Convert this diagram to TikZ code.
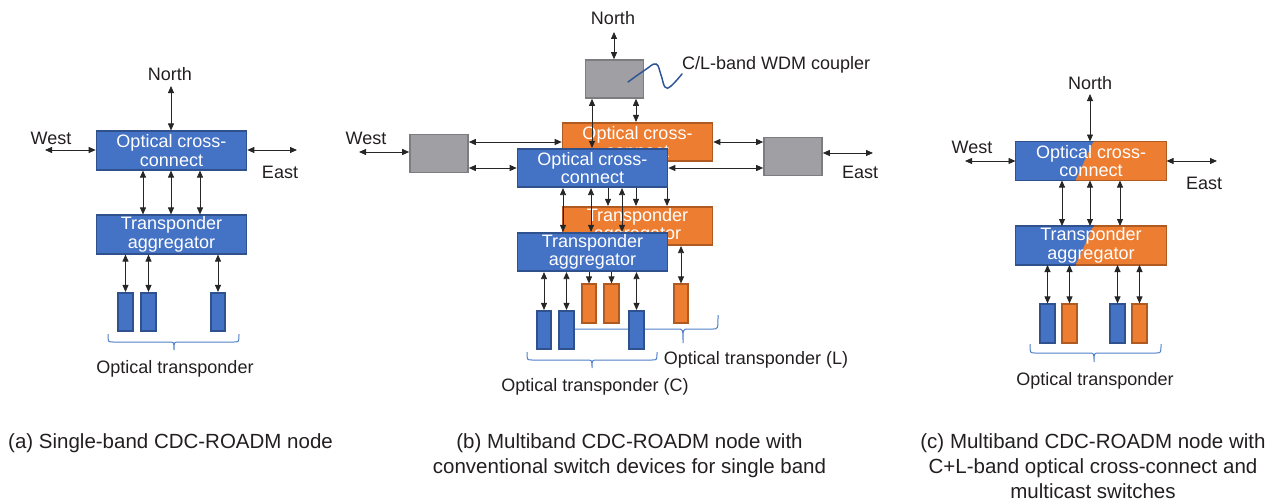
\documentclass[tikz,border=0pt]{standalone}
\usepackage{fontspec}
\setmainfont{Liberation Sans}
\usetikzlibrary{arrows.meta}

\definecolor{oxblue}{RGB}{68,114,196}
\definecolor{oxblueline}{RGB}{47,82,143}
\definecolor{oxorange}{RGB}{237,125,49}
\definecolor{oxorangeline}{RGB}{174,90,33}
\definecolor{cplgray}{RGB}{160,160,164}
\definecolor{cplline}{RGB}{125,125,128}
\definecolor{bracecol}{RGB}{80,128,200}
\definecolor{wavecol}{RGB}{47,85,151}
\definecolor{txt}{RGB}{35,31,32}

\newcommand{\lblfont}{\fontsize{18}{18.5}\selectfont}
\newcommand{\capfont}{\fontsize{20.5}{25}\selectfont}

% curly brace opening downwards: x-left, x-right, x-tip, y-top, depth
\newcommand{\bracedown}[5]{%
  \draw[brace line] (#1,#4) .. controls (#1,#4+#5/2) .. (#1+5,#4+#5/2)
    -- (#3-5,#4+#5/2) .. controls (#3,#4+#5/2) .. (#3,#4+#5)
    .. controls (#3,#4+#5/2) .. (#3+5,#4+#5/2)
    -- (#2-5,#4+#5/2) .. controls (#2,#4+#5/2) .. (#2,#4);}

\tikzset{
  box/.style={draw, line width=1.6pt, inner sep=0pt, align=center,
    text=white, font=\lblfont, minimum width=150, minimum height=38.5},
  bluebox/.style={box, fill=oxblue, draw=oxblueline},
  orangebox/.style={box, fill=oxorange, draw=oxorangeline},
  graybox/.style={box, fill=cplgray, draw=cplline, minimum width=58, minimum height=38},
  tpblue/.style={draw=oxblueline, fill=oxblue, line width=1.6pt,
    minimum width=14.5, minimum height=38.5, inner sep=0pt},
  tporange/.style={tpblue, draw=oxorangeline, fill=oxorange},
  splitbox/.style={inner sep=0pt, outer sep=0pt, align=center, text=white,
    font=\lblfont, minimum width=151, minimum height=39, fill=oxblue,
    path picture={
      \fill[oxorange] ([xshift=78pt]path picture bounding box.north west)
        -- (path picture bounding box.north east)
        -- (path picture bounding box.south east)
        -- ([xshift=60pt]path picture bounding box.south west) -- cycle;}},
  lbl/.style={inner sep=0pt, text=txt, font=\lblfont},
  captext/.style={inner sep=0pt, text=txt, font=\capfont, align=center},
  brace line/.style={draw=bracecol, line width=1pt},
  tipA/.tip={Triangle[length=7pt,width=6pt]},
  dbl/.style={tipA-tipA, line width=0.8pt, draw=black!85},
  sgl/.style={-tipA, line width=0.8pt, draw=black!85},
}

\begin{document}
\begin{tikzpicture}[x=1pt,y=-1pt]
\useasboundingbox (0,0) rectangle (1280,503);

% ---------------- (a) single-band node ----------------
\node[bluebox] (oxcA) at (171.5,150.5) {Optical cross-\\connect};
\node[bluebox] (taA) at (171.5,234.5) {Transponder\\aggregator};
\node[lbl] (northA) at (170,74) {North};
\node[lbl] (westA) at (51,138) {West};
\node[lbl] (eastA) at (280,172) {East};
\bracedown{108}{239}{174}{334}{16}
\node[tpblue] (tpA1) at (125.5,312) {};
\node[tpblue] (tpA2) at (148.5,312) {};
\node[tpblue] (tpA3) at (218,312) {};
\node[lbl] (otA) at (175,369) {Optical transponder};

\coordinate (nA) at (171,86);
\coordinate (wA) at (45,150);
\coordinate (eA) at (297,150);
\draw[dbl] (oxcA.north -| nA) -- (nA);
\draw[dbl] (oxcA.west |- wA) -- (wA);
\draw[dbl] (oxcA.east |- eA) -- (eA);
\foreach \x in {143,171,200} \draw[dbl] (oxcA.south -| \x,0) -- (taA.north -| \x,0);
\foreach \t in {tpA1,tpA2,tpA3} \draw[dbl] (taA.south -| \t) -- (\t.north);

% ---------------- (b) multiband node, single-band devices ----------------
\node[graybox] (cpB) at (614.5,79) {};
\node[graybox] (wgB) at (439,153.5) {};
\node[graybox] (egB) at (793,156.5) {};
\node[orangebox] (oxcOB) at (637.5,142) {Optical cross-\\connect};
\node[bluebox] (oxcBB) at (592.5,168) {Optical cross-\\connect};
\node[orangebox] (taOB) at (637.5,226) {Transponder\\aggregator};
\node[bluebox] (taBB) at (592.5,252) {Transponder\\aggregator};
\node[lbl] (northB) at (613,18) {North};
\node[lbl] (westB) at (366,138) {West};
\node[lbl] (eastB) at (860,172) {East};
\node[lbl, anchor=west] (wdmB) at (682,65) {C/L-band WDM coupler};
\draw[wavecol, line width=1.5pt, line cap=round] plot[smooth, tension=0.7]
  coordinates {(628,82) (645,70) (656,64) (661,75) (665,87) (671,86) (682,74)};

\bracedown{563}{718}{683}{315}{28}
\bracedown{527}{657}{592}{352}{16}
\node[tpblue] (tpB1) at (544,330) {};
\node[tpblue] (tpB2) at (566.5,330) {};
\node[tpblue] (tpB3) at (636.5,330) {};
\node[tporange] (tpB4) at (589,303.5) {};
\node[tporange] (tpB5) at (611.5,303.5) {};
\node[tporange] (tpB6) at (681,303.5) {};
\node[lbl] (otLB) at (756,360) {Optical transponder (L)};
\node[lbl] (otCB) at (595,387) {Optical transponder (C)};

\coordinate (nB) at (614,32);
\coordinate (wB) at (359,152);
\coordinate (eB) at (873,153);
\draw[dbl] (cpB.north -| nB) -- (nB);
\draw[dbl] (wgB.west |- wB) -- (wB);
\draw[dbl] (egB.east |- eB) -- (eB);
\draw[dbl] (wgB.east |- 0,142) -- (oxcOB.west |- 0,142);
\draw[dbl] (wgB.east |- 0,168) -- (oxcBB.west |- 0,168);
\draw[dbl] (oxcOB.east |- 0,142) -- (egB.west |- 0,142);
\draw[dbl] (oxcBB.east |- 0,168) -- (egB.west |- 0,168);
\draw[dbl] (cpB.south -| 636,0) -- (oxcOB.north -| 636,0);
\draw[dbl] (cpB.south -| 592,0) -- (oxcBB.north -| 592,0);
\foreach \x in {563,591,622} \draw[dbl] (oxcBB.south -| \x,0) -- (taBB.north -| \x,0);
\foreach \x in {608,636,667} \draw[sgl] (oxcBB.south -| \x,0) -- (taOB.north -| \x,0);
\foreach \t in {tpB1,tpB2,tpB3} \draw[dbl] (taBB.south -| \t) -- (\t.north);
\foreach \t in {tpB4,tpB5} \draw[sgl] (taBB.south -| \t) -- (\t.north);
\draw[dbl] (taOB.south -| tpB6) -- (tpB6.north);

% ---------------- (c) multiband node, C+L devices ----------------
\node[splitbox] (oxcC) at (1091,161) {Optical cross-\\connect};
\node[splitbox] (taC) at (1091,245.5) {Transponder\\aggregator};
\foreach \b in {oxcC,taC} {
  \draw[oxblueline, line width=1.6pt] ([xshift=78pt]\b.north west) -- (\b.north west)
    -- (\b.south west) -- ([xshift=60pt]\b.south west);
  \draw[oxorangeline, line width=1.6pt] ([xshift=78pt]\b.north west) -- (\b.north east)
    -- (\b.south east) -- ([xshift=60pt]\b.south west);
}
\node[lbl] (northC) at (1090,83) {North};
\node[lbl] (westC) at (972,147) {West};
\node[lbl] (eastC) at (1204,183) {East};
\bracedown{1030}{1161}{1094}{344}{18}
\node[tpblue] (tpC1) at (1047.5,323.5) {};
\node[tporange] (tpC2) at (1069.5,323.5) {};
\node[tpblue] (tpC3) at (1117.5,323.5) {};
\node[tporange] (tpC4) at (1139.5,323.5) {};
\node[lbl] (otC) at (1095,381) {Optical transponder};

\coordinate (nC) at (1090,94);
\coordinate (wC) at (965,161);
\coordinate (eC) at (1217,161);
\draw[dbl] (oxcC.north -| nC) -- (nC);
\draw[dbl] (oxcC.west |- wC) -- (wC);
\draw[dbl] (oxcC.east |- eC) -- (eC);
\foreach \x in {1062,1090,1120} \draw[dbl] (oxcC.south -| \x,0) -- (taC.north -| \x,0);
\foreach \t in {tpC1,tpC2,tpC3,tpC4} \draw[dbl] (taC.south -| \t) -- (\t.north);

% ---------------- captions ----------------
\node[captext, anchor=north west] (capA) at (8,433) {(a) Single-band CDC-ROADM node};
\node[captext, anchor=north] (capB) at (629.5,433)
  {(b) Multiband CDC-ROADM node with\\conventional switch devices for single band};
\node[captext, anchor=north] (capC) at (1093,433)
  {(c) Multiband CDC-ROADM node with\\C+L-band optical cross-connect and\\multicast switches};
\end{tikzpicture}
\end{document}
